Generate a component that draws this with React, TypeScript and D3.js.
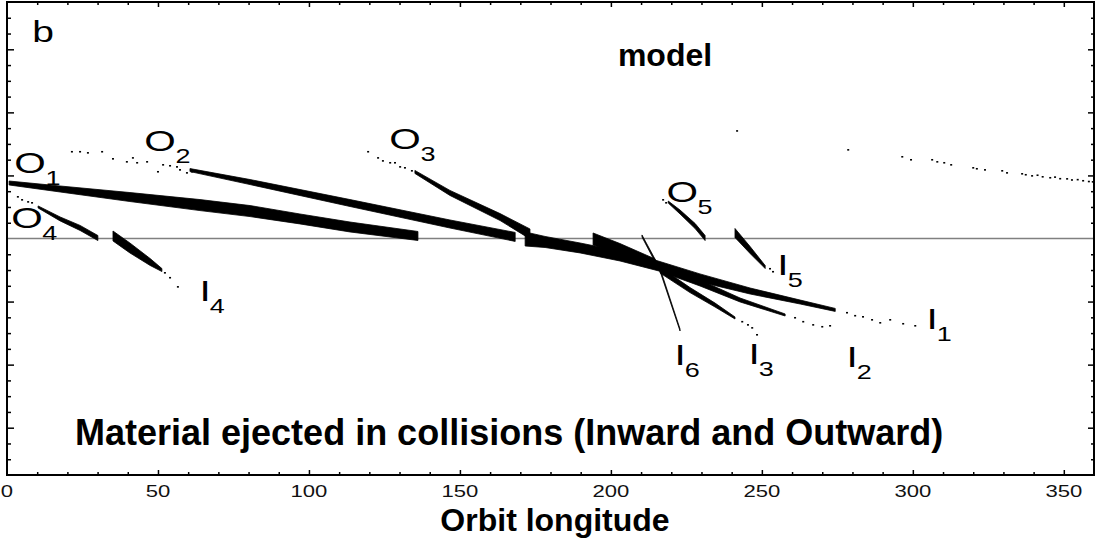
import React, { useEffect, useRef } from 'react';
import * as d3 from 'd3';

type Pt = [number, number, number]; // longitude, offset, vertical spread of the particle cloud

const W = 1095;
const H = 547;

// dense parts of each streak
const streakO1: Pt[] = [[0.7, 3.52, 0.25], [17.6, 3.14, 0.38], [40.7, 2.63, 0.57], [63.9, 2.12, 0.7], [80.5, 1.74, 0.7], [97, 1.24, 0.63], [113.6, 0.73, 0.63], [136.1, 0.16, 0.57]];
const streakO2: Pt[] = [[60.6, 4.34, 0.19], [80.5, 3.58, 0.32], [113.6, 2.25, 0.44], [146.7, 0.92, 0.51], [168.3, 0.1, 0.57]];
const streakO3: Pt[] = [[135.1, 4.22, 0.19], [146.7, 2.89, 0.32], [163.3, 1.36, 0.44], [173.2, 0.29, 0.63]];
const streakO4: Pt[] = [[10.3, 2.0, 0.13], [17.6, 1.24, 0.25], [24.2, 0.67, 0.32], [30.1, 0.03, 0.32]];
const streakO5: Pt[] = [[219.0, 2.31, 0.13], [222.9, 1.68, 0.25], [227.9, 0.79, 0.32], [231.2, 0.03, 0.32]];
const streakO6: Pt[] = [[194.1, -0.03, 0.76], [203.0, -0.67, 0.7], [214.6, -1.55, 0.51]];
const streakI1: Pt[] = [[171.6, -0.03, 0.89], [178.2, -0.22, 0.7], [189.8, -0.6, 0.63], [203.0, -1.11, 0.63], [214.6, -1.68, 0.63], [229.5, -2.5, 0.51], [246.1, -3.33, 0.38], [262.7, -4.03, 0.25], [274.3, -4.53, 0.19]];
const streakI2: Pt[] = [[216.3, -1.87, 0.44], [229.5, -2.82, 0.38], [242.8, -3.9, 0.25], [257.7, -4.85, 0.13]];
const streakI3: Pt[] = [[216.3, -2.0, 0.38], [226.2, -3.27, 0.32], [234.5, -4.22, 0.25], [241.1, -5.04, 0.13]];
const streakI4: Pt[] = [[35.1, 0.16, 0.63], [40.7, -0.6, 0.63], [47.4, -1.49, 0.44], [51.3, -2.0, 0.19]];
const streakI5: Pt[] = [[241.1, 0.35, 0.57], [246.1, -0.73, 0.44], [251.1, -1.81, 0.19]];
const streakI6: Pt[] = [[210.3, 0.16, 0.13], [216.3, -2.0, 0.19], [222.9, -5.8, 0.13]];

// sparse particles
const dotsO2: [number, number][] = [[21.5, 5.49], [24.2, 5.49], [26.8, 5.42], [31.5, 5.49], [35.1, 5.04], [39.7, 4.85], [41.7, 5.1], [43.1, 4.79], [46.4, 4.85], [50.0, 4.22], [51.7, 4.66], [54.0, 4.6], [56.3, 4.53], [57.3, 4.34], [59.6, 4.15], [61.3, 4.22]];
const dotsO3: [number, number][] = [[119.6, 5.49], [122.9, 5.1], [124.5, 4.91], [126.9, 4.79], [128.5, 4.79], [130.2, 4.53], [131.8, 4.47], [134.1, 4.28]];
const dotsO4: [number, number][] = [[3.6, 2.63], [5.0, 2.44], [7.0, 2.31], [8.3, 2.25]];
const dotsO5: [number, number][] = [[217.3, 2.44], [218.3, 2.25]];
const dotsI1: [number, number][] = [[278.2, -4.72], [280.9, -4.91], [283.5, -4.98], [286.5, -5.17], [289.2, -5.36], [292.5, -5.17], [296.8, -5.42], [300.8, -5.55]];
const dotsI2: [number, number][] = [[261.0, -5.04], [263.7, -5.29], [267.0, -5.49], [270.0, -5.61], [272.6, -5.55]];
const dotsI3: [number, number][] = [[243.5, -5.29], [245.4, -5.49], [246.8, -5.68], [248.4, -6.12]];
const dotsI4: [number, number][] = [[52.3, -2.19], [54.0, -2.5], [56.6, -3.08]];
const dotsI5: [number, number][] = [[252.7, -1.93], [253.7, -2.12]];
const dotsFar: [number, number][] = [
  [241.8, 6.81], [278.6, 5.61], [296.5, 5.17], [299.4, 4.98], [306.4, 4.98], [308.1, 4.85], [310.4, 4.79], [312.7, 4.66],
  [320.0, 4.47], [321.2, 4.41], [323.9, 4.34], [329.6, 4.28], [331.2, 4.15], [336.2, 4.09], [337.4, 4.03], [339.5, 3.96],
  [341.3, 4.0], [343.0, 3.9], [345.5, 3.84], [347.1, 3.88], [348.8, 3.78], [351.1, 3.77], [352.7, 3.7], [354.6, 3.72],
  [356.4, 3.65], [358.3, 3.6], [359.6, 3.58],
];

const streakLabels = [
  { letter: 'O', sub: '1', lon: 7.6, y: 4.85 },
  { letter: 'O', sub: '2', lon: 50.7, y: 6.25 },
  { letter: 'O', sub: '3', lon: 131.8, y: 6.37 },
  { letter: 'O', sub: '4', lon: 6.6, y: 1.36 },
  { letter: 'O', sub: '5', lon: 223.6, y: 3.01 },
  { letter: 'I', sub: '1', lon: 306.4, y: -5.04 },
  { letter: 'I', sub: '2', lon: 279.9, y: -7.45 },
  { letter: 'I', sub: '3', lon: 247.4, y: -7.26 },
  { letter: 'I', sub: '4', lon: 65.6, y: -3.27 },
  { letter: 'I', sub: '5', lon: 257.0, y: -1.62 },
  { letter: 'I', sub: '6', lon: 222.9, y: -7.32 },
];

const xTickLabels = [0, 50, 100, 150, 200, 250, 300, 350];

export default function App() {
  const svgRef = useRef<SVGSVGElement>(null);

  useEffect(() => {
    if (!svgRef.current) return;
    const svg = d3.select(svgRef.current);
    svg.selectAll('*').remove();

    const left = 7, right = 1094, top = 2, bottom = 475;
    const x = d3.scaleLinear().domain([0, 360]).range([left, right]);
    const y = d3.scaleLinear().domain([-15, 15]).range([bottom, top]);

    const font = '"Liberation Sans", Arial, Helvetica, sans-serif';

    // zero line
    svg.append('line')
      .attr('x1', left).attr('x2', right)
      .attr('y1', y(0)).attr('y2', y(0))
      .attr('stroke', '#808080').attr('stroke-width', 1.5);

    // streaks
    const area = d3.area<Pt>()
      .x(d => x(d[0]))
      .y0(d => y(d[1] - d[2] / 2))
      .y1(d => y(d[1] + d[2] / 2));

    [streakO1, streakO2, streakO3, streakO4, streakO5, streakO6, streakI1, streakI2, streakI3, streakI4, streakI5, streakI6]
      .forEach(s => {
        svg.append('path')
          .datum(s)
          .attr('d', area)
          .attr('fill', '#000')
          .attr('stroke', '#000')
          .attr('stroke-width', 0.8)
          .attr('stroke-linejoin', 'round');
      });

    const dots = [...dotsO2, ...dotsO3, ...dotsO4, ...dotsO5, ...dotsI1, ...dotsI2, ...dotsI3, ...dotsI4, ...dotsI5, ...dotsFar];
    svg.selectAll('.dot')
      .data(dots)
      .enter().append('rect')
      .attr('class', 'dot')
      .attr('x', d => x(d[0]) - 1)
      .attr('y', d => y(d[1]) - 1)
      .attr('width', 2)
      .attr('height', 1.6)
      .attr('fill', '#000');

    // ticks, all pointing inward
    const yMinor = d3.range(-14, 15, 1).filter(v => v % 4 !== 0);
    const yMajor = [-12, -8, -4, 4, 8, 12];
    const xMinor = d3.range(10, 360, 10).filter(v => v % 50 !== 0);
    const xMajor = [50, 100, 150, 200, 250, 300, 350];

    const noLabel = () => '';
    svg.append('g').attr('transform', `translate(${left},0)`)
      .call(d3.axisRight(y).tickValues(yMinor).tickSize(4).tickFormat(noLabel));
    svg.append('g').attr('transform', `translate(${left},0)`)
      .call(d3.axisRight(y).tickValues(yMajor).tickSize(7).tickFormat(noLabel));
    svg.append('g').attr('transform', `translate(${right},0)`)
      .call(d3.axisLeft(y).tickValues(yMinor).tickSize(3).tickFormat(noLabel));
    svg.append('g').attr('transform', `translate(${right},0)`)
      .call(d3.axisLeft(y).tickValues(yMajor).tickSize(6).tickFormat(noLabel));
    svg.append('g').attr('transform', `translate(0,${top})`)
      .call(d3.axisBottom(x).tickValues(xMinor).tickSize(3).tickFormat(noLabel));
    svg.append('g').attr('transform', `translate(0,${top})`)
      .call(d3.axisBottom(x).tickValues(xMajor).tickSize(5).tickFormat(noLabel));
    svg.append('g').attr('transform', `translate(0,${bottom})`)
      .call(d3.axisTop(x).tickValues(xMinor).tickSize(3).tickFormat(noLabel));
    svg.append('g').attr('transform', `translate(0,${bottom})`)
      .call(d3.axisTop(x).tickValues(xMajor).tickSize(5).tickFormat(noLabel));
    svg.selectAll('.domain').remove();
    svg.selectAll('.tick line').attr('stroke', '#000').attr('stroke-width', 1.5);

    // frame
    svg.append('rect')
      .attr('x', left).attr('y', top)
      .attr('width', right - left).attr('height', bottom - top)
      .attr('fill', 'none').attr('stroke', '#000').attr('stroke-width', 2);

    // tick labels (the original figure is stretched sideways)
    xTickLabels.forEach(v => {
      svg.append('text')
        .attr('transform', `translate(${x(v)},${bottom + 22}) scale(1.3,1)`)
        .attr('text-anchor', 'middle')
        .style('font-family', font)
        .style('font-size', '17px')
        .attr('fill', '#111')
        .text(v);
    });

    // streak labels
    streakLabels.forEach(d => {
      const lg = svg.append('g')
        .attr('transform', `translate(${x(d.lon)},${y(d.y)}) scale(1.35,1)`);
      lg.append('text')
        .attr('x', 0).attr('y', 11)
        .attr('text-anchor', 'middle')
        .style('font-family', font)
        .style('font-size', '30px')
        .text(d.letter);
      lg.append('text')
        .attr('x', d.letter === 'O' ? 17 : 9).attr('y', 23)
        .attr('text-anchor', 'middle')
        .style('font-family', font)
        .style('font-size', '20px')
        .text(d.sub);
    });

    // panel letter
    svg.append('text')
      .attr('transform', 'translate(43,42) scale(1.3,1)')
      .attr('text-anchor', 'middle')
      .style('font-family', font)
      .style('font-size', '30px')
      .text('b');

    svg.append('text')
      .attr('x', 665).attr('y', 66)
      .attr('text-anchor', 'middle')
      .style('font-family', font)
      .style('font-size', '32px')
      .style('font-weight', 'bold')
      .text('model');

    svg.append('text')
      .attr('x', 75).attr('y', 445)
      .style('font-family', font)
      .style('font-size', '36px')
      .style('font-weight', 'bold')
      .text('Material ejected in collisions (Inward and Outward)');

    svg.append('text')
      .attr('x', 555).attr('y', 531)
      .attr('text-anchor', 'middle')
      .style('font-family', font)
      .style('font-size', '32px')
      .style('font-weight', 'bold')
      .text('Orbit longitude');
  }, []);

  return (
    <svg
      ref={svgRef}
      width={W}
      height={H}
      style={{ position: 'absolute', left: 0, top: 0, background: '#fff' }}
    />
  );
}
